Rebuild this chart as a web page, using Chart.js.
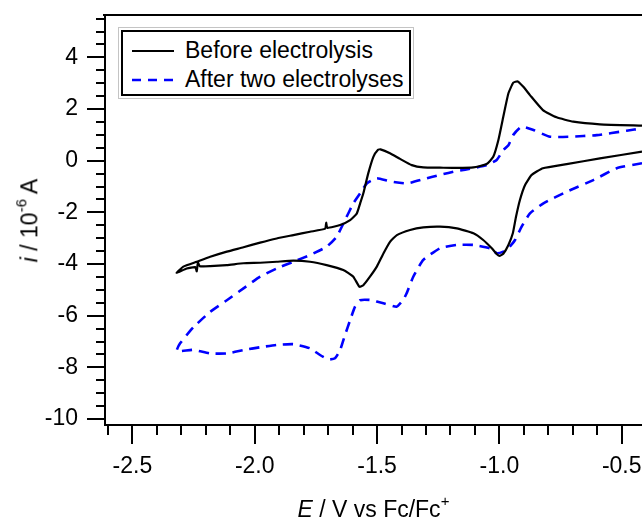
<!DOCTYPE html>
<html>
<head>
<meta charset="utf-8">
<title>Cyclic voltammogram</title>
<script src="https://cdn.jsdelivr.net/npm/chart.js@4.4.1/dist/chart.umd.min.js"></script>
<style>
  html, body { margin: 0; padding: 0; background: #fff; }
  #wrap { position: relative; width: 642px; height: 519px; overflow: hidden;
          font-family: "Liberation Sans", Arial, sans-serif; color: #000; }
  #cv { position: absolute; left: 0; top: 0; }
  .ttl { position: absolute; font-size: 23px; line-height: 23px; white-space: nowrap; }
  .sup { font-size: 15px; position: relative; top: -11px; }
  #legend { position: absolute; left: 118px; top: 27px; border: 1px solid #c4c4c4;
            padding: 2px; background: #fff; }
  #legend .box { border: 2px solid #000; width: 286px; height: 58px; padding-top: 4px;
                 font-size: 23px; }
  #legend .row { display: flex; align-items: center; height: 29px; }
  #legend svg { margin-left: 9px; margin-right: 11px; }
</style>
</head>
<body>
<div id="wrap">
  <canvas id="cv" width="642" height="519"></canvas>
  <div id="legend"><div class="box"></div></div>
  <div id="xtitle" class="ttl"><i>E</i> / V vs Fc/Fc<span class="sup">+</span></div>
  <div id="ytitle" class="ttl"><i>i</i> / 10<span class="sup">-6</span> A</div>
</div>
<script>
// values (E in V vs Fc/Fc+, i in 1e-6 A)
const seriesLabels = ["Before electrolysis", "After two electrolyses"];

// black trace: cathodic sweep right to left, then anodic sweep back
const beforeE = [
  -0.417, -0.589, -0.725, -0.822, -0.868, -0.895, -0.916, -0.932, -0.945, -0.963,
  -0.984, -0.998, -1.010, -1.031, -1.066, -1.106, -1.174, -1.243, -1.311, -1.365,
  -1.419, -1.447, -1.474, -1.501, -1.529, -1.556, -1.572, -1.597, -1.638, -1.706,
  -1.774, -1.842, -1.910, -1.978, -2.046, -2.114, -2.182, -2.225, -2.232, -2.237,
  -2.243, -2.278, -2.319,
  -2.292, -2.237, -2.182, -2.114, -2.046, -1.978, -1.910, -1.842, -1.774, -1.712,
  -1.708, -1.703, -1.651, -1.610, -1.583, -1.569, -1.556, -1.536, -1.515, -1.496,
  -1.486, -1.447, -1.406, -1.358, -1.311, -1.243, -1.174, -1.106, -1.052, -1.025,
  -1.004, -0.984, -0.963, -0.943, -0.925, -0.902, -0.875, -0.822, -0.766, -0.698,
  -0.589, -0.417
];
const beforeI = [
  0.35, 0.09, -0.13, -0.29, -0.55, -0.94, -1.52, -2.17, -2.81, -3.26,
  -3.60, -3.68, -3.62, -3.39, -3.07, -2.81, -2.62, -2.55, -2.58, -2.68,
  -2.88, -3.14, -3.59, -4.10, -4.49, -4.82, -4.88, -4.49, -4.23, -4.04,
  -3.91, -3.87, -3.91, -3.95, -3.97, -4.04, -4.08, -4.08, -3.93, -4.28,
  -4.12, -4.17, -4.34,
  -4.10, -3.91, -3.72, -3.52, -3.35, -3.17, -3.01, -2.88, -2.75, -2.63,
  -2.40, -2.60, -2.49, -2.30, -2.05, -1.65, -1.26, -0.49, 0.15, 0.42,
  0.44, 0.29, 0.07, -0.17, -0.26, -0.27, -0.28, -0.26, -0.13, 0.15,
  0.80, 1.70, 2.61, 3.02, 3.07, 2.86, 2.54, 1.96, 1.68, 1.51,
  1.41, 1.36
];

// blue dashed trace, same direction
const afterE = [
  -0.417, -0.520, -0.616, -0.725, -0.820, -0.875, -0.909, -0.936, -0.963, -0.984,
  -1.011, -1.038, -1.106, -1.174, -1.243, -1.311, -1.352, -1.379, -1.393, -1.420,
  -1.474, -1.529, -1.569, -1.590, -1.610, -1.631, -1.651, -1.672, -1.699, -1.733,
  -1.774, -1.842, -1.910, -1.978, -2.046, -2.114, -2.182, -2.251, -2.319,
  -2.305, -2.251, -2.182, -2.114, -2.046, -1.978, -1.910, -1.842, -1.774, -1.706,
  -1.665, -1.631, -1.597, -1.569, -1.542, -1.501, -1.447, -1.379, -1.311, -1.243,
  -1.174, -1.106, -1.052, -1.011, -0.984, -0.963, -0.943, -0.909, -0.861, -0.793,
  -0.711, -0.602, -0.480, -0.417
];
const afterI = [
  -0.10, -0.29, -0.75, -1.20, -1.65, -2.04, -2.55, -3.07, -3.39, -3.52,
  -3.58, -3.39, -3.26, -3.26, -3.39, -3.84, -4.49, -5.13, -5.39, -5.65,
  -5.52, -5.39, -5.40, -5.65, -6.17, -6.75, -7.33, -7.65, -7.69, -7.52,
  -7.26, -7.10, -7.13, -7.22, -7.33, -7.46, -7.46, -7.32, -7.37,
  -7.07, -6.45, -5.85, -5.40, -4.94, -4.49, -4.17, -3.91, -3.65, -3.33,
  -2.94, -2.30, -1.65, -1.26, -0.88, -0.68, -0.80, -0.88, -0.72, -0.55,
  -0.40, -0.29, -0.17, 0.03, 0.41, 0.60, 1.00, 1.32, 1.19, 0.93,
  0.93, 0.99, 1.16, 1.25
];

// axes
const xMajorTicks = [-2.5, -2.0, -1.5, -1.0, -0.5];
const yMajorTicks = [-10, -8, -6, -4, -2, 0, 2, 4];
const xRange = [-2.612, -0.417];
const yRange = [-10.23, 5.64];
const xMinorStep = 0.1;
const yMinorStep = 0.5;

function toPoints(xs, ys) {
  return xs.map((x, k) => ({ x: x, y: ys[k] }));
}
function stepTicks(lo, hi, step) {
  const out = [];
  for (let n = Math.ceil(lo / step - 1e-9); n * step <= hi + 1e-9; n++) {
    out.push(Math.round(n * step * 1000) / 1000);
  }
  return out;
}
const isIn = (list, v) => list.some(m => Math.abs(m - v) < 1e-6);

// outward major/minor tick marks plus the top frame line
const tickMarks = {
  id: "tickMarks",
  afterDraw(chart) {
    const { ctx, chartArea: a, scales } = chart;
    ctx.save();
    ctx.strokeStyle = "#000";
    ctx.lineWidth = 2;
    ctx.beginPath();
    ctx.moveTo(a.left - 2, a.top);
    ctx.lineTo(a.right, a.top);
    scales.x.ticks.forEach(t => {
      const px = Math.round(scales.x.getPixelForValue(t.value));
      ctx.moveTo(px, a.bottom + 1);
      ctx.lineTo(px, a.bottom + (isIn(xMajorTicks, t.value) ? 19 : 10));
    });
    scales.y.ticks.forEach(t => {
      const py = Math.round(scales.y.getPixelForValue(t.value));
      ctx.moveTo(a.left - 1, py);
      ctx.lineTo(a.left - (isIn(yMajorTicks, t.value) ? 18 : 9), py);
    });
    ctx.stroke();
    ctx.restore();
  }
};

const tickFont = { family: "'Liberation Sans', Arial, sans-serif", size: 23 };

const chart = new Chart(document.getElementById("cv"), {
  type: "scatter",
  data: {
    datasets: [
      {
        label: seriesLabels[0],
        data: toPoints(beforeE, beforeI),
        showLine: true, pointRadius: 0, tension: 0.15,
        borderColor: "#000000", borderWidth: 2.2
      },
      {
        label: seriesLabels[1],
        data: toPoints(afterE, afterI),
        showLine: true, pointRadius: 0, tension: 0.15,
        borderColor: "#0000ff", borderWidth: 2.6, borderDash: [10, 7]
      }
    ]
  },
  options: {
    responsive: false,
    animation: false,
    layout: { padding: { top: 15, right: 0, bottom: 0, left: 0 } },
    plugins: { legend: { display: false }, tooltip: { enabled: false } },
    scales: {
      x: {
        type: "linear", min: xRange[0], max: xRange[1],
        grid: { display: false, drawTicks: false },
        border: { display: true, color: "#000", width: 2 },
        afterBuildTicks: s => { s.ticks = stepTicks(xRange[0], xRange[1], xMinorStep).map(v => ({ value: v })); },
        afterFit: s => {
          s.height = 94;
          s.paddingLeft = 0; s.paddingRight = 0; s.paddingTop = 0; s.paddingBottom = 0;
        },
        ticks: {
          autoSkip: false, maxRotation: 0, padding: 28, color: "#000", font: tickFont,
          callback: v => isIn(xMajorTicks, v) ? v.toFixed(1) : ""
        }
      },
      y: {
        type: "linear", min: yRange[0], max: yRange[1],
        grid: { display: false, drawTicks: false },
        border: { display: true, color: "#000", width: 2 },
        afterBuildTicks: s => { s.ticks = stepTicks(yRange[0], yRange[1], yMinorStep).map(v => ({ value: v })); },
        afterFit: s => {
          s.width = 105;
          s.paddingLeft = 0; s.paddingRight = 0; s.paddingTop = 0; s.paddingBottom = 0;
        },
        ticks: {
          autoSkip: false, padding: 27, color: "#000", font: tickFont,
          callback: v => isIn(yMajorTicks, v) ? String(Math.round(v)) : ""
        }
      }
    }
  },
  plugins: [tickMarks]
});

// legend built from the datasets
const box = document.querySelector("#legend .box");
chart.data.datasets.forEach(ds => {
  const row = document.createElement("div");
  row.className = "row";
  row.innerHTML =
    '<svg width="42" height="6"><line x1="0" y1="3" x2="42" y2="3" stroke="' + ds.borderColor +
    '" stroke-width="' + ds.borderWidth + '" stroke-dasharray="' + (ds.borderDash ? "9 7" : "none") + '"/></svg>' +
    "<span>" + ds.label + "</span>";
  box.appendChild(row);
});

// axis titles centred on the plot area
const area = chart.chartArea;
const xt = document.getElementById("xtitle");
xt.style.left = ((area.left + area.right) / 2 - xt.offsetWidth / 2) + "px";
xt.style.top = "498px";
const yt = document.getElementById("ytitle");
yt.style.left = (30.5 - yt.offsetWidth / 2) + "px";
yt.style.top = ((area.top + area.bottom) / 2 - yt.offsetHeight / 2) + "px";
yt.style.transform = "rotate(-90deg)";
</script>
</body>
</html>
